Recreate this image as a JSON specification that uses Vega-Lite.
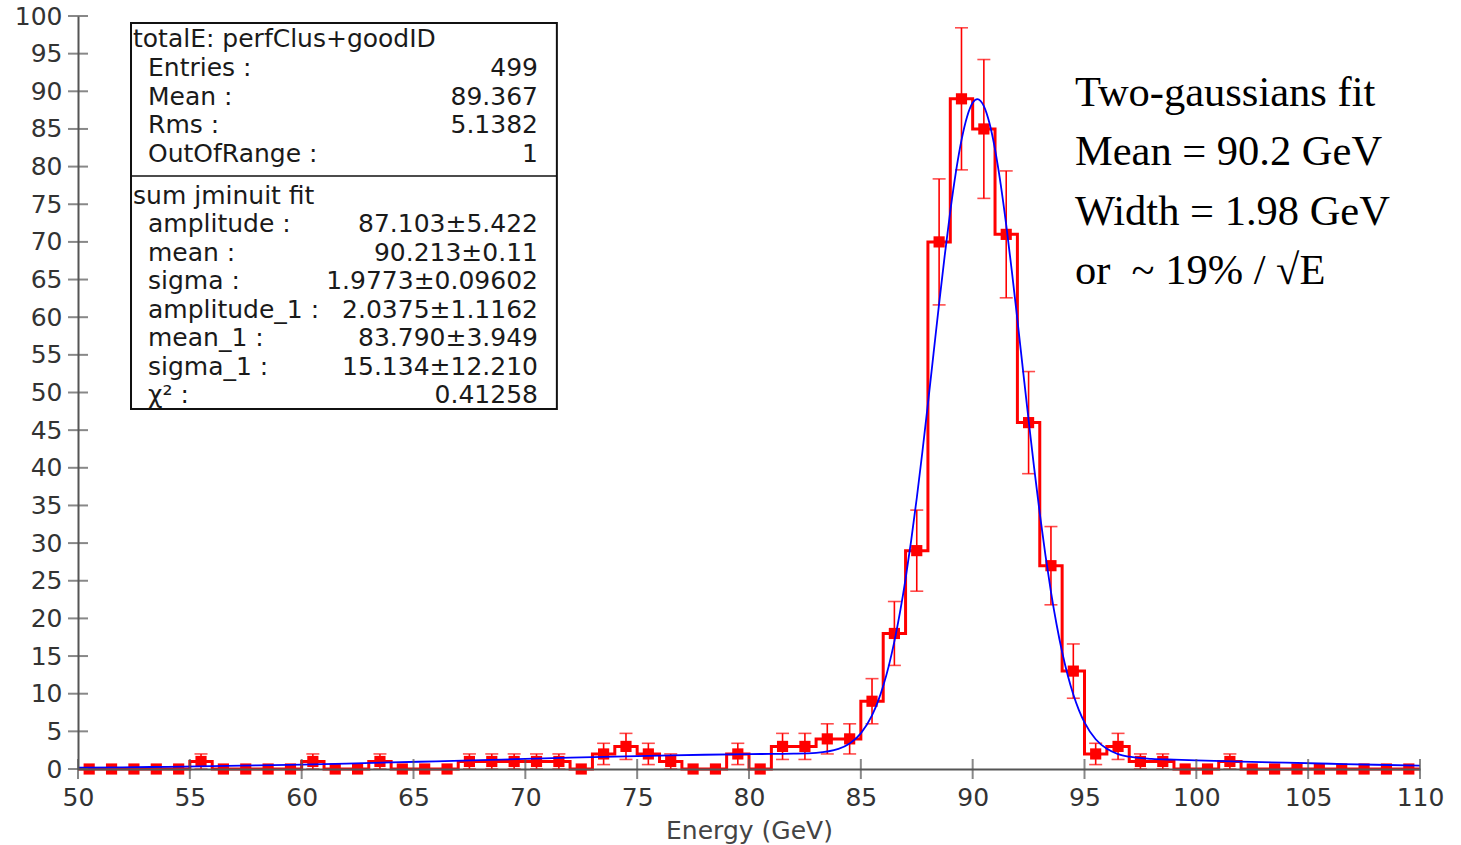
{
  "$schema": "https://vega.github.io/schema/vega-lite/v6.json",
  "width": 1342,
  "height": 753,
  "autosize": {"type": "none"},
  "padding": {"left": 78, "top": 16, "right": 41, "bottom": 76},
  "background": "white",
  "config": {
    "view": {"stroke": null},
    "font": "DejaVu Sans",
    "axis": {"labelOverlap": false, "labelSeparation": 0, "labelBound": false},
    "axisY": {"labelOverlap": false},
    "axisQuantitative": {"labelOverlap": false}
  },
  "datasets": {
    "bins": [
      {"lo": 50, "x": 50.5, "n": 0, "elo": 0, "ehi": 0},
      {"lo": 51, "x": 51.5, "n": 0, "elo": 0, "ehi": 0},
      {"lo": 52, "x": 52.5, "n": 0, "elo": 0, "ehi": 0},
      {"lo": 53, "x": 53.5, "n": 0, "elo": 0, "ehi": 0},
      {"lo": 54, "x": 54.5, "n": 0, "elo": 0, "ehi": 0},
      {"lo": 55, "x": 55.5, "n": 1, "elo": 0, "ehi": 2},
      {"lo": 56, "x": 56.5, "n": 0, "elo": 0, "ehi": 0},
      {"lo": 57, "x": 57.5, "n": 0, "elo": 0, "ehi": 0},
      {"lo": 58, "x": 58.5, "n": 0, "elo": 0, "ehi": 0},
      {"lo": 59, "x": 59.5, "n": 0, "elo": 0, "ehi": 0},
      {"lo": 60, "x": 60.5, "n": 1, "elo": 0, "ehi": 2},
      {"lo": 61, "x": 61.5, "n": 0, "elo": 0, "ehi": 0},
      {"lo": 62, "x": 62.5, "n": 0, "elo": 0, "ehi": 0},
      {"lo": 63, "x": 63.5, "n": 1, "elo": 0, "ehi": 2},
      {"lo": 64, "x": 64.5, "n": 0, "elo": 0, "ehi": 0},
      {"lo": 65, "x": 65.5, "n": 0, "elo": 0, "ehi": 0},
      {"lo": 66, "x": 66.5, "n": 0, "elo": 0, "ehi": 0},
      {"lo": 67, "x": 67.5, "n": 1, "elo": 0, "ehi": 2},
      {"lo": 68, "x": 68.5, "n": 1, "elo": 0, "ehi": 2},
      {"lo": 69, "x": 69.5, "n": 1, "elo": 0, "ehi": 2},
      {"lo": 70, "x": 70.5, "n": 1, "elo": 0, "ehi": 2},
      {"lo": 71, "x": 71.5, "n": 1, "elo": 0, "ehi": 2},
      {"lo": 72, "x": 72.5, "n": 0, "elo": 0, "ehi": 0},
      {"lo": 73, "x": 73.5, "n": 2, "elo": 0.586, "ehi": 3.414},
      {"lo": 74, "x": 74.5, "n": 3, "elo": 1.268, "ehi": 4.732},
      {"lo": 75, "x": 75.5, "n": 2, "elo": 0.586, "ehi": 3.414},
      {"lo": 76, "x": 76.5, "n": 1, "elo": 0, "ehi": 2},
      {"lo": 77, "x": 77.5, "n": 0, "elo": 0, "ehi": 0},
      {"lo": 78, "x": 78.5, "n": 0, "elo": 0, "ehi": 0},
      {"lo": 79, "x": 79.5, "n": 2, "elo": 0.586, "ehi": 3.414},
      {"lo": 80, "x": 80.5, "n": 0, "elo": 0, "ehi": 0},
      {"lo": 81, "x": 81.5, "n": 3, "elo": 1.268, "ehi": 4.732},
      {"lo": 82, "x": 82.5, "n": 3, "elo": 1.268, "ehi": 4.732},
      {"lo": 83, "x": 83.5, "n": 4, "elo": 2, "ehi": 6},
      {"lo": 84, "x": 84.5, "n": 4, "elo": 2, "ehi": 6},
      {"lo": 85, "x": 85.5, "n": 9, "elo": 6, "ehi": 12},
      {"lo": 86, "x": 86.5, "n": 18, "elo": 13.757, "ehi": 22.243},
      {"lo": 87, "x": 87.5, "n": 29, "elo": 23.615, "ehi": 34.385},
      {"lo": 88, "x": 88.5, "n": 70, "elo": 61.633, "ehi": 78.367},
      {"lo": 89, "x": 89.5, "n": 89, "elo": 79.566, "ehi": 98.434},
      {"lo": 90, "x": 90.5, "n": 85, "elo": 75.78, "ehi": 94.22},
      {"lo": 91, "x": 91.5, "n": 71, "elo": 62.574, "ehi": 79.426},
      {"lo": 92, "x": 92.5, "n": 46, "elo": 39.218, "ehi": 52.782},
      {"lo": 93, "x": 93.5, "n": 27, "elo": 21.804, "ehi": 32.196},
      {"lo": 94, "x": 94.5, "n": 13, "elo": 9.394, "ehi": 16.606},
      {"lo": 95, "x": 95.5, "n": 2, "elo": 0.586, "ehi": 3.414},
      {"lo": 96, "x": 96.5, "n": 3, "elo": 1.268, "ehi": 4.732},
      {"lo": 97, "x": 97.5, "n": 1, "elo": 0, "ehi": 2},
      {"lo": 98, "x": 98.5, "n": 1, "elo": 0, "ehi": 2},
      {"lo": 99, "x": 99.5, "n": 0, "elo": 0, "ehi": 0},
      {"lo": 100, "x": 100.5, "n": 0, "elo": 0, "ehi": 0},
      {"lo": 101, "x": 101.5, "n": 1, "elo": 0, "ehi": 2},
      {"lo": 102, "x": 102.5, "n": 0, "elo": 0, "ehi": 0},
      {"lo": 103, "x": 103.5, "n": 0, "elo": 0, "ehi": 0},
      {"lo": 104, "x": 104.5, "n": 0, "elo": 0, "ehi": 0},
      {"lo": 105, "x": 105.5, "n": 0, "elo": 0, "ehi": 0},
      {"lo": 106, "x": 106.5, "n": 0, "elo": 0, "ehi": 0},
      {"lo": 107, "x": 107.5, "n": 0, "elo": 0, "ehi": 0},
      {"lo": 108, "x": 108.5, "n": 0, "elo": 0, "ehi": 0},
      {"lo": 109, "x": 109.5, "n": 0, "elo": 0, "ehi": 0},
      {"lo": 110, "x": 110.5, "n": 0, "elo": 0, "ehi": 0}
    ],
    "fit": [
      {"e": 50, "f": 0.169}, {"e": 52, "f": 0.224}, {"e": 54, "f": 0.294},
      {"e": 56, "f": 0.378}, {"e": 58, "f": 0.477}, {"e": 60, "f": 0.592},
      {"e": 62, "f": 0.723}, {"e": 64, "f": 0.867}, {"e": 66, "f": 1.021},
      {"e": 68, "f": 1.182}, {"e": 70, "f": 1.345}, {"e": 72, "f": 1.504},
      {"e": 74, "f": 1.653}, {"e": 76, "f": 1.785}, {"e": 78, "f": 1.894},
      {"e": 80, "f": 1.975}, {"e": 81, "f": 2.005}, {"e": 82, "f": 2.039},
      {"e": 83, "f": 2.147}, {"e": 84, "f": 2.663}, {"e": 84.5, "f": 3.375},
      {"e": 85, "f": 4.727}, {"e": 85.5, "f": 7.111}, {"e": 85.75, "f": 8.839},
      {"e": 86, "f": 11.015}, {"e": 86.25, "f": 13.697}, {"e": 86.5, "f": 16.942},
      {"e": 86.75, "f": 20.79}, {"e": 87, "f": 25.255}, {"e": 87.25, "f": 30.325},
      {"e": 87.5, "f": 35.957}, {"e": 87.75, "f": 42.064}, {"e": 88, "f": 48.522},
      {"e": 88.25, "f": 55.164}, {"e": 88.5, "f": 61.791}, {"e": 88.75, "f": 68.172},
      {"e": 89, "f": 74.082}, {"e": 89.25, "f": 79.27}, {"e": 89.5, "f": 83.517},
      {"e": 89.75, "f": 86.633}, {"e": 90, "f": 88.472}, {"e": 90.213, "f": 88.968},
      {"e": 90.5, "f": 88.036}, {"e": 90.75, "f": 85.782}, {"e": 91, "f": 82.289},
      {"e": 91.25, "f": 77.715}, {"e": 91.5, "f": 72.265}, {"e": 91.75, "f": 66.166},
      {"e": 92, "f": 59.66}, {"e": 92.25, "f": 52.979}, {"e": 92.5, "f": 46.346},
      {"e": 92.75, "f": 39.954}, {"e": 93, "f": 33.95}, {"e": 93.25, "f": 28.455},
      {"e": 93.5, "f": 23.536}, {"e": 93.75, "f": 19.226}, {"e": 94, "f": 15.539},
      {"e": 94.25, "f": 12.441}, {"e": 94.5, "f": 9.89}, {"e": 94.75, "f": 7.83},
      {"e": 95, "f": 6.197}, {"e": 95.5, "f": 3.951}, {"e": 96, "f": 2.675},
      {"e": 96.5, "f": 1.988}, {"e": 97, "f": 1.633}, {"e": 98, "f": 1.348},
      {"e": 99, "f": 1.235}, {"e": 100, "f": 1.148}, {"e": 102, "f": 0.988},
      {"e": 104, "f": 0.835}, {"e": 106, "f": 0.694}, {"e": 108, "f": 0.567},
      {"e": 110, "f": 0.455}
    ],
    "xticks": [
      {"t": 50}, {"t": 55}, {"t": 60}, {"t": 65}, {"t": 70}, {"t": 75}, {"t": 80},
      {"t": 85}, {"t": 90}, {"t": 95}, {"t": 100}, {"t": 105}, {"t": 110}
    ],
    "yticks": [
      {"t": 0}, {"t": 5}, {"t": 10}, {"t": 15}, {"t": 20}, {"t": 25}, {"t": 30},
      {"t": 35}, {"t": 40}, {"t": 45}, {"t": 50}, {"t": 55}, {"t": 60}, {"t": 65},
      {"t": 70}, {"t": 75}, {"t": 80}, {"t": 85}, {"t": 90}, {"t": 95}, {"t": 100}
    ]
  },
  "layer": [
    {
      "data": {"name": "bins"},
      "mark": {"type": "line", "interpolate": "step-after", "color": "#ff0000", "strokeWidth": 3},
      "encoding": {
        "x": {
          "field": "lo", "type": "quantitative",
          "scale": {"domain": [50, 110], "nice": false, "zero": false, "clamp": true},
          "axis": {
            "title": "Energy (GeV)",
            "values": [50, 55, 60, 65, 70, 75, 80, 85, 90, 95, 100, 105, 110],
            "grid": false, "ticks": false, "tickSize": 0, "labelPadding": 16, "labelOverlap": false,
            "domainColor": "#555555", "domainWidth": 2,
            "labelFont": "DejaVu Sans", "labelFontSize": 25, "labelColor": "#333333", "labelFlush": false,
            "titleFont": "DejaVu Sans", "titleFontSize": 25, "titleFontWeight": "normal",
            "titleColor": "#444444", "titlePadding": 8, "zindex": 1
          }
        },
        "y": {
          "field": "n", "type": "quantitative",
          "scale": {"domain": [0, 100], "nice": false},
          "axis": {
            "title": null,
            "values": [0, 5, 10, 15, 20, 25, 30, 35, 40, 45, 50, 55, 60, 65, 70, 75, 80, 85, 90, 95, 100],
            "tickCount": 21,
            "grid": false, "ticks": false, "tickSize": 0, "labelPadding": 16, "labelOverlap": false,
            "domainColor": "#555555", "domainWidth": 2,
            "labelFont": "DejaVu Sans", "labelFontSize": 25, "labelColor": "#333333", "labelFlush": false,
            "zindex": 1
          }
        }
      }
    },
    {
      "data": {"name": "bins"},
      "transform": [{"filter": "datum.n > 0"}],
      "mark": {"type": "rule", "color": "#ff0000", "strokeWidth": 1.6},
      "encoding": {
        "x": {"field": "x", "type": "quantitative"},
        "y": {"field": "elo", "type": "quantitative"},
        "y2": {"field": "ehi"}
      }
    },
    {
      "data": {"name": "bins"},
      "transform": [{"filter": "datum.n > 0"}],
      "mark": {"type": "tick", "orient": "horizontal", "color": "#ff0000", "size": 13, "thickness": 1.6},
      "encoding": {
        "x": {"field": "x", "type": "quantitative"},
        "y": {"field": "ehi", "type": "quantitative"}
      }
    },
    {
      "data": {"name": "bins"},
      "transform": [{"filter": "datum.n > 0"}],
      "mark": {"type": "tick", "orient": "horizontal", "color": "#ff0000", "size": 13, "thickness": 1.6},
      "encoding": {
        "x": {"field": "x", "type": "quantitative"},
        "y": {"field": "elo", "type": "quantitative"}
      }
    },
    {
      "data": {"name": "bins"},
      "transform": [{"filter": "datum.lo < 110"}],
      "mark": {"type": "point", "shape": "square", "filled": true, "color": "#ff0000", "opacity": 1, "size": 125},
      "encoding": {
        "x": {"field": "x", "type": "quantitative"},
        "y": {"field": "n", "type": "quantitative"}
      }
    },
    {
      "data": {"name": "fit"},
      "mark": {"type": "line", "interpolate": "monotone", "color": "#0000ff", "strokeWidth": 1.8},
      "encoding": {
        "x": {"field": "e", "type": "quantitative"},
        "y": {"field": "f", "type": "quantitative"}
      }
    },
    {
      "data": {"values": [{}]},
      "mark": {"type": "rect", "fill": "white", "stroke": "#111111", "strokeWidth": 2},
      "encoding": {
        "x": {"datum": 52.37, "type": "quantitative"},
        "x2": {"datum": 71.41},
        "y": {"datum": 99.07, "type": "quantitative"},
        "y2": {"datum": 47.8}
      }
    },
    {
      "data": {"values": [{}]},
      "mark": {"type": "rule", "color": "#111111", "strokeWidth": 1.5},
      "encoding": {
        "x": {"datum": 52.37, "type": "quantitative"},
        "x2": {"datum": 71.41},
        "y": {"datum": 78.75, "type": "quantitative"}
      }
    },
    {
      "data": {"values": [{}]},
      "mark": {"type": "text", "align": "left", "baseline": "alphabetic", "font": "DejaVu Sans", "fontSize": 25, "color": "#1a1a1a",
        "text": "totalE: perfClus+goodID"},
      "encoding": {
        "x": {"datum": 52.46, "type": "quantitative"},
        "y": {"datum": 95.88, "type": "quantitative"}
      }
    },
    {
      "data": {"values": [{}]},
      "mark": {"type": "text", "align": "left", "baseline": "alphabetic", "font": "DejaVu Sans", "fontSize": 25, "color": "#1a1a1a",
        "lineHeight": 28.5, "text": ["Entries :", "Mean :", "Rms :", "OutOfRange :"]},
      "encoding": {
        "x": {"datum": 53.13, "type": "quantitative"},
        "y": {"datum": 92.03, "type": "quantitative"}
      }
    },
    {
      "data": {"values": [{}]},
      "mark": {"type": "text", "align": "right", "baseline": "alphabetic", "font": "DejaVu Sans", "fontSize": 25, "color": "#1a1a1a",
        "lineHeight": 28.5, "text": ["499", "89.367", "5.1382", "1"]},
      "encoding": {
        "x": {"datum": 70.566, "type": "quantitative"},
        "y": {"datum": 92.03, "type": "quantitative"}
      }
    },
    {
      "data": {"values": [{}]},
      "mark": {"type": "text", "align": "left", "baseline": "alphabetic", "font": "DejaVu Sans", "fontSize": 25, "color": "#1a1a1a",
        "text": "sum jminuit fit"},
      "encoding": {
        "x": {"datum": 52.46, "type": "quantitative"},
        "y": {"datum": 75.03, "type": "quantitative"}
      }
    },
    {
      "data": {"values": [{}]},
      "mark": {"type": "text", "align": "left", "baseline": "alphabetic", "font": "DejaVu Sans", "fontSize": 25, "color": "#1a1a1a",
        "lineHeight": 28.5, "text": ["amplitude :", "mean :", "sigma :", "amplitude_1 :", "mean_1 :", "sigma_1 :", "χ² :"]},
      "encoding": {
        "x": {"datum": 53.13, "type": "quantitative"},
        "y": {"datum": 71.31, "type": "quantitative"}
      }
    },
    {
      "data": {"values": [{}]},
      "mark": {"type": "text", "align": "right", "baseline": "alphabetic", "font": "DejaVu Sans", "fontSize": 25, "color": "#1a1a1a",
        "lineHeight": 28.5, "text": ["87.103±5.422", "90.213±0.11", "1.9773±0.09602", "2.0375±1.1162", "83.790±3.949", "15.134±12.210", "0.41258"]},
      "encoding": {
        "x": {"datum": 70.566, "type": "quantitative"},
        "y": {"datum": 71.31, "type": "quantitative"}
      }
    },
    {
      "data": {"values": [{}]},
      "mark": {"type": "text", "align": "left", "baseline": "alphabetic", "font": "Liberation Serif", "fontSize": 42.5, "color": "#000000",
        "lineHeight": 59.3, "text": ["Two-gaussians fit", "Mean = 90.2 GeV", "Width = 1.98 GeV", "or\u00a0 ~ 19% / √E"]},
      "encoding": {
        "x": {"datum": 94.57, "type": "quantitative"},
        "y": {"datum": 88.05, "type": "quantitative"}
      }
    },
    {
      "data": {"name": "xticks"},
      "mark": {"type": "tick", "orient": "vertical", "color": "#555555", "size": 20, "thickness": 2},
      "encoding": {
        "x": {"field": "t", "type": "quantitative"},
        "y": {"datum": 0, "type": "quantitative"}
      }
    },
    {
      "data": {"name": "yticks"},
      "mark": {"type": "tick", "orient": "horizontal", "color": "#555555", "size": 20, "thickness": 2},
      "encoding": {
        "y": {"field": "t", "type": "quantitative"},
        "x": {"datum": 50, "type": "quantitative"}
      }
    }
  ]
}
